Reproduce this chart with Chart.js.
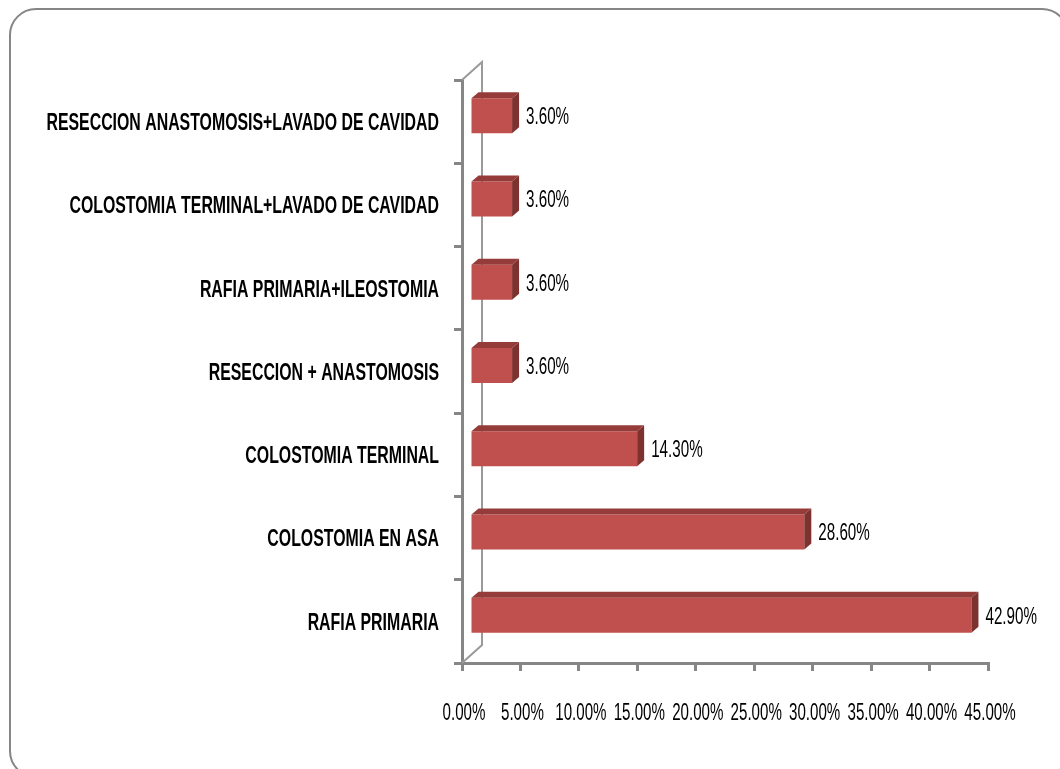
<!DOCTYPE html>
<html>
<head>
<meta charset="utf-8">
<script src="https://cdn.jsdelivr.net/npm/chart.js@4.4.1/dist/chart.umd.min.js"></script>
<style>
  html, body { margin: 0; padding: 0; background: #ffffff; }
  #wrap { position: relative; width: 1060px; height: 769px; }
  canvas { display: block; }
</style>
</head>
<body>
<div id="wrap"><canvas id="c" width="1060" height="769"></canvas></div>
<script>
// Surgical procedures and their share of cases
const categories = [
  'RESECCION ANASTOMOSIS+LAVADO DE CAVIDAD',
  'COLOSTOMIA TERMINAL+LAVADO DE CAVIDAD',
  'RAFIA PRIMARIA+ILEOSTOMIA',
  'RESECCION + ANASTOMOSIS',
  'COLOSTOMIA TERMINAL',
  'COLOSTOMIA EN ASA',
  'RAFIA PRIMARIA'
];
const percentages = [3.6, 3.6, 3.6, 3.6, 14.3, 28.6, 42.9];
const axisMin = 0;
const axisMax = 45;
const axisStep = 5;

const FONT = '"Liberation Sans", Arial, sans-serif';
const FRONT = '#C0504D';
const TOP = '#953C3A';
const SIDE = '#7E3230';
const AXIS = '#868686';

// 3D depth of the plot box and of the bars
const DEPTH_X = 20, DEPTH_Y = 18;
const BAR_SHIFT_X = 8, BAR_SHIFT_Y = -6;
const BAR_DX = 7, BAR_DY = 6;

// draws text squeezed horizontally, as in a narrow typeface
function narrowText(ctx, text, x, y, font, squeeze, align) {
  ctx.save();
  ctx.font = font;
  ctx.textBaseline = 'middle';
  const w = ctx.measureText(text).width * squeeze;
  let left = x;
  if (align === 'right') left = x - w;
  else if (align === 'center') left = x - w / 2;
  ctx.translate(left, y);
  ctx.scale(squeeze, 1);
  ctx.textAlign = 'left';
  ctx.fillText(text, 0, 0);
  ctx.restore();
}

const box3d = {
  id: 'box3d',
  beforeDatasetsDraw(chart) {
    const { ctx, chartArea: a } = chart;
    ctx.save();
    ctx.strokeStyle = '#9a9a9a';
    ctx.lineWidth = 2;
    ctx.beginPath();
    ctx.moveTo(a.left, a.top);
    ctx.lineTo(a.left + DEPTH_X, a.top - DEPTH_Y);
    ctx.lineTo(a.left + DEPTH_X, a.bottom - DEPTH_Y);
    ctx.lineTo(a.left, a.bottom);
    ctx.stroke();
    ctx.restore();
    ctx.save();
    ctx.translate(BAR_SHIFT_X, BAR_SHIFT_Y);
  },
  afterDatasetsDraw(chart) {
    const { ctx } = chart;
    ctx.restore();
    const meta = chart.getDatasetMeta(0);
    ctx.save();
    meta.data.forEach((bar, i) => {
      const p = bar.getProps(['x', 'y', 'base', 'height'], true);
      const x0 = p.base + BAR_SHIFT_X, x1 = p.x + BAR_SHIFT_X;
      const y0 = p.y - p.height / 2 + BAR_SHIFT_Y, y1 = p.y + p.height / 2 + BAR_SHIFT_Y;
      // top face
      ctx.fillStyle = TOP;
      ctx.beginPath();
      ctx.moveTo(x0, y0);
      ctx.lineTo(x0 + BAR_DX, y0 - BAR_DY);
      ctx.lineTo(x1 + BAR_DX, y0 - BAR_DY);
      ctx.lineTo(x1, y0);
      ctx.closePath();
      ctx.fill();
      // side face
      ctx.fillStyle = SIDE;
      ctx.beginPath();
      ctx.moveTo(x1, y0);
      ctx.lineTo(x1 + BAR_DX, y0 - BAR_DY);
      ctx.lineTo(x1 + BAR_DX, y1 - BAR_DY);
      ctx.lineTo(x1, y1);
      ctx.closePath();
      ctx.fill();
      // value label
      ctx.fillStyle = '#000';
      narrowText(ctx, percentages[i].toFixed(2) + '%', x1 + BAR_DX + 7, (y0 + y1) / 2 + 2,
                 '23px ' + FONT, 0.66, 'left');
    });
    ctx.restore();
  }
};

// category and percentage labels in a condensed face
const axisText = {
  id: 'axisText',
  afterDraw(chart) {
    const ctx = chart.ctx;
    const ys = chart.scales.y, xs = chart.scales.x;
    ctx.save();
    ctx.fillStyle = '#000';
    ys.ticks.forEach((t, i) => {
      narrowText(ctx, categories[i], ys.right - 8 - 15, ys.getPixelForTick(i) + 2,
                 'bold 23px ' + FONT, 0.69, 'right');
    });
    xs.ticks.forEach((t) => {
      narrowText(ctx, Number(t.value).toFixed(2) + '%', xs.getPixelForValue(t.value) + 2, 713,
                 '24px ' + FONT, 0.63, 'center');
    });
    ctx.restore();
  }
};

const frame = {
  id: 'frame',
  afterDraw(chart) {
    const ctx = chart.ctx;
    ctx.save();
    ctx.strokeStyle = AXIS;
    ctx.lineWidth = 2;
    ctx.beginPath();
    ctx.roundRect(10, 9, 1058, 768, 26);
    ctx.stroke();
    ctx.restore();
  }
};

new Chart(document.getElementById('c'), {
  type: 'bar',
  data: {
    labels: categories,
    datasets: [{
      data: percentages,
      backgroundColor: FRONT,
      borderWidth: 0,
      barPercentage: 0.42,
      categoryPercentage: 1
    }]
  },
  options: {
    indexAxis: 'y',
    responsive: false,
    animation: false,
    devicePixelRatio: 1,
    layout: { padding: { left: 0, top: 80, right: 72, bottom: 0 } },
    plugins: { legend: { display: false }, tooltip: { enabled: false } },
    scales: {
      x: {
        min: axisMin,
        max: axisMax,
        afterFit(scale) { scale.height = 106; },
        afterBuildTicks(scale) {
          const t = [];
          for (let v = axisMin; v <= axisMax; v += axisStep) t.push({ value: v });
          scale.ticks = t;
        },
        border: { display: true, color: AXIS, width: 3 },
        grid: { drawOnChartArea: false, color: AXIS, lineWidth: 3, tickLength: 8 },
        ticks: { display: false }
      },
      y: {
        afterFit(scale) { scale.width = 462; },
        border: { display: true, color: AXIS, width: 3 },
        grid: { drawOnChartArea: false, offset: true, color: AXIS, lineWidth: 3, tickLength: 8 },
        ticks: { display: false }
      }
    }
  },
  plugins: [box3d, axisText, frame]
});
</script>
</body>
</html>
